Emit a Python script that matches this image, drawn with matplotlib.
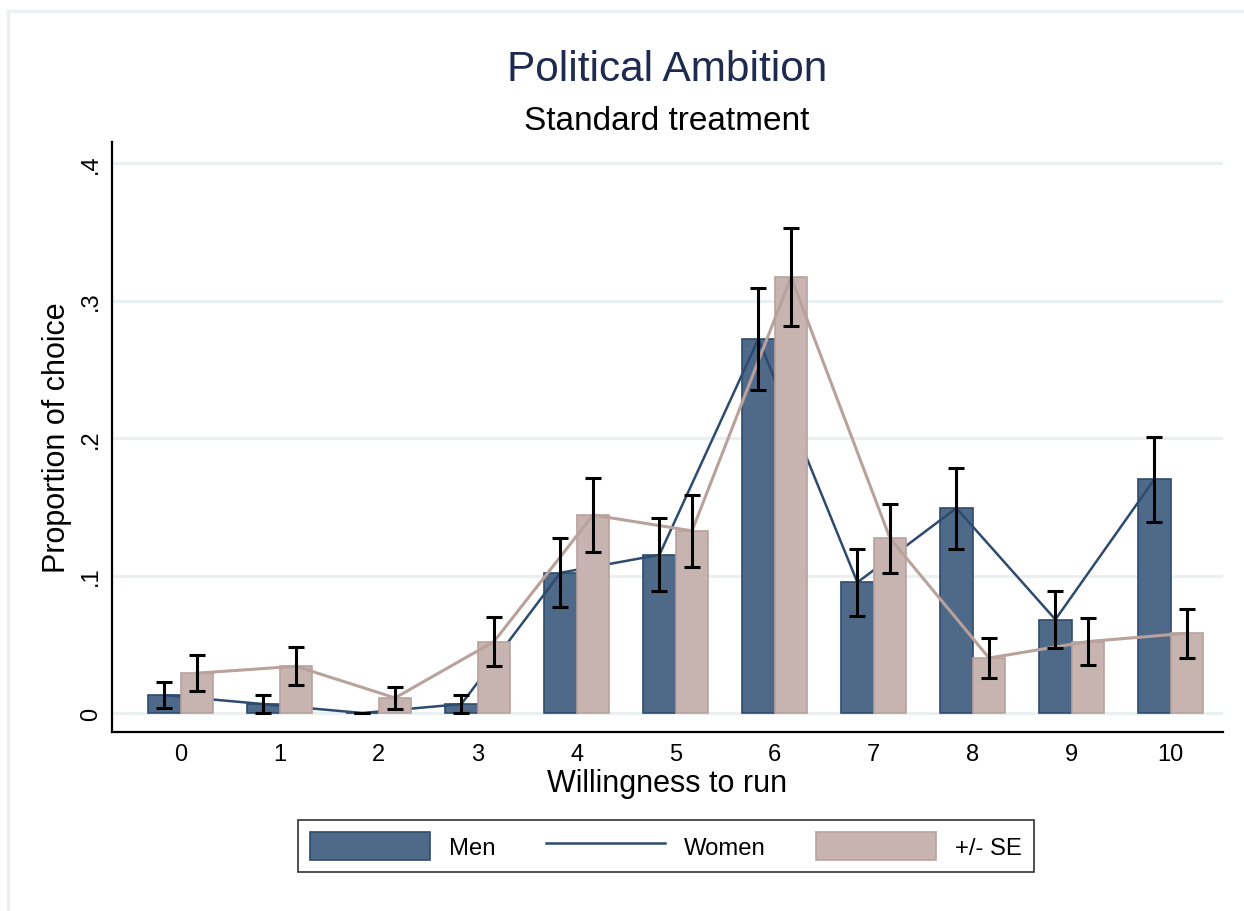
import matplotlib
matplotlib.use("Agg")
import matplotlib.pyplot as plt
from matplotlib.patches import Patch
from matplotlib.lines import Line2D
import numpy as np

# Willingness to run (0-10) and share of respondents choosing each level
levels = list(range(11))
men_mean = [0.013, 0.0065, 0.0, 0.0065, 0.102, 0.115, 0.272, 0.095, 0.149, 0.068, 0.170]
men_se = [0.0096, 0.0068, 0.0, 0.0068, 0.025, 0.0265, 0.037, 0.0244, 0.0295, 0.021, 0.031]
women_mean = [0.029, 0.034, 0.011, 0.052, 0.144, 0.1325, 0.317, 0.127, 0.040, 0.052, 0.058]
women_se = [0.013, 0.0138, 0.0082, 0.0175, 0.0268, 0.026, 0.0355, 0.0251, 0.0148, 0.0169, 0.0178]

ytick_vals = [0, 0.1, 0.2, 0.3, 0.4]
ytick_labels = ["0", ".1", ".2", ".3", ".4"]
legend_labels = ["Men", "Women", "+/- SE"]

plt.rcParams["font.family"] = ["Liberation Sans", "DejaVu Sans"]

men_fill = "#4f6a88"
men_edge = "#2c4b6e"
women_fill = "#c7b4b0"
women_edge = "#b9a19c"
grid_col = "#eaf0f2"

fig = plt.figure(figsize=(12.44, 9.12), dpi=100)
ax = fig.add_axes([112 / 1244, 1 - 733 / 912, 1111 / 1244, 590 / 912])

x = np.array(levels, dtype=float)
w = 0.33
off = 0.165

# bars and connecting lines, layered so the women's bars sit over the men's line
ax.bar(x - off, men_mean, width=w, color=men_fill, edgecolor=men_edge, linewidth=1.2, zorder=2)
ax.plot(x - off, men_mean, color=men_edge, linewidth=1.8, zorder=3)
ax.bar(x + off, women_mean, width=w, color=women_fill, edgecolor=women_edge, linewidth=1.2, zorder=4)
ax.plot(x + off, women_mean, color=women_edge, linewidth=2.2, zorder=5)

ax.errorbar(x - off, men_mean, yerr=men_se, fmt="none", ecolor="black",
            elinewidth=2.2, capsize=6, capthick=2.2, zorder=6)
ax.errorbar(x + off, women_mean, yerr=women_se, fmt="none", ecolor="black",
            elinewidth=2.2, capsize=6, capthick=2.2, zorder=6)

ax.set_xlim(-0.694, 10.528)
ax.set_ylim(-0.0138, 0.4153)
ax.set_xticks(x)
ax.set_xticklabels([str(v) for v in levels], fontsize=17)
ax.set_yticks(ytick_vals)
ax.set_yticklabels(ytick_labels, fontsize=17, rotation=90, va="center")
ax.tick_params(axis="x", length=0, pad=8)
ax.tick_params(axis="y", length=0, pad=7)
for yv in ytick_vals:
    ax.axhline(yv, color=grid_col, linewidth=2.2, zorder=0)

for s in ["top", "right"]:
    ax.spines[s].set_visible(False)
for s in ["left", "bottom"]:
    ax.spines[s].set_linewidth(1.6)

ax.set_xlabel("Willingness to run", fontsize=22, labelpad=2)
ax.set_ylabel("Proportion of choice", fontsize=22, labelpad=6)

fig.text(667 / 1244, 1 - 70 / 912, "Political Ambition", fontsize=30.5,
         color="#1e2a50", ha="center", va="center")
fig.text(667 / 1244, 1 - 122 / 912, "Standard treatment", fontsize=24,
         color="black", ha="center", va="center")

handles = [
    Patch(facecolor=men_fill, edgecolor=men_edge, linewidth=1.2),
    Line2D([0], [0], color=men_edge, linewidth=1.8),
    Patch(facecolor=women_fill, edgecolor=women_edge, linewidth=1.2),
]
leg = fig.legend(handles, legend_labels, loc="center", bbox_to_anchor=(666 / 1244, 1 - 847 / 912),
                 ncol=3, fontsize=17.2, frameon=True, fancybox=False, handlelength=5.0,
                 handleheight=1.4, handletextpad=0.8, columnspacing=2.1, borderpad=0.5)
leg.get_frame().set_edgecolor("black")
leg.get_frame().set_linewidth(1.2)

# faint outer frame along the top and left edges
fig.add_artist(Line2D([8 / 1244, 8 / 1244], [0, 1 - 12 / 912], color=grid_col,
                      linewidth=2.5, transform=fig.transFigure))
fig.add_artist(Line2D([8 / 1244, 1], [1 - 12 / 912, 1 - 12 / 912], color=grid_col,
                      linewidth=2.5, transform=fig.transFigure))

fig.savefig("out.png", dpi=100)
